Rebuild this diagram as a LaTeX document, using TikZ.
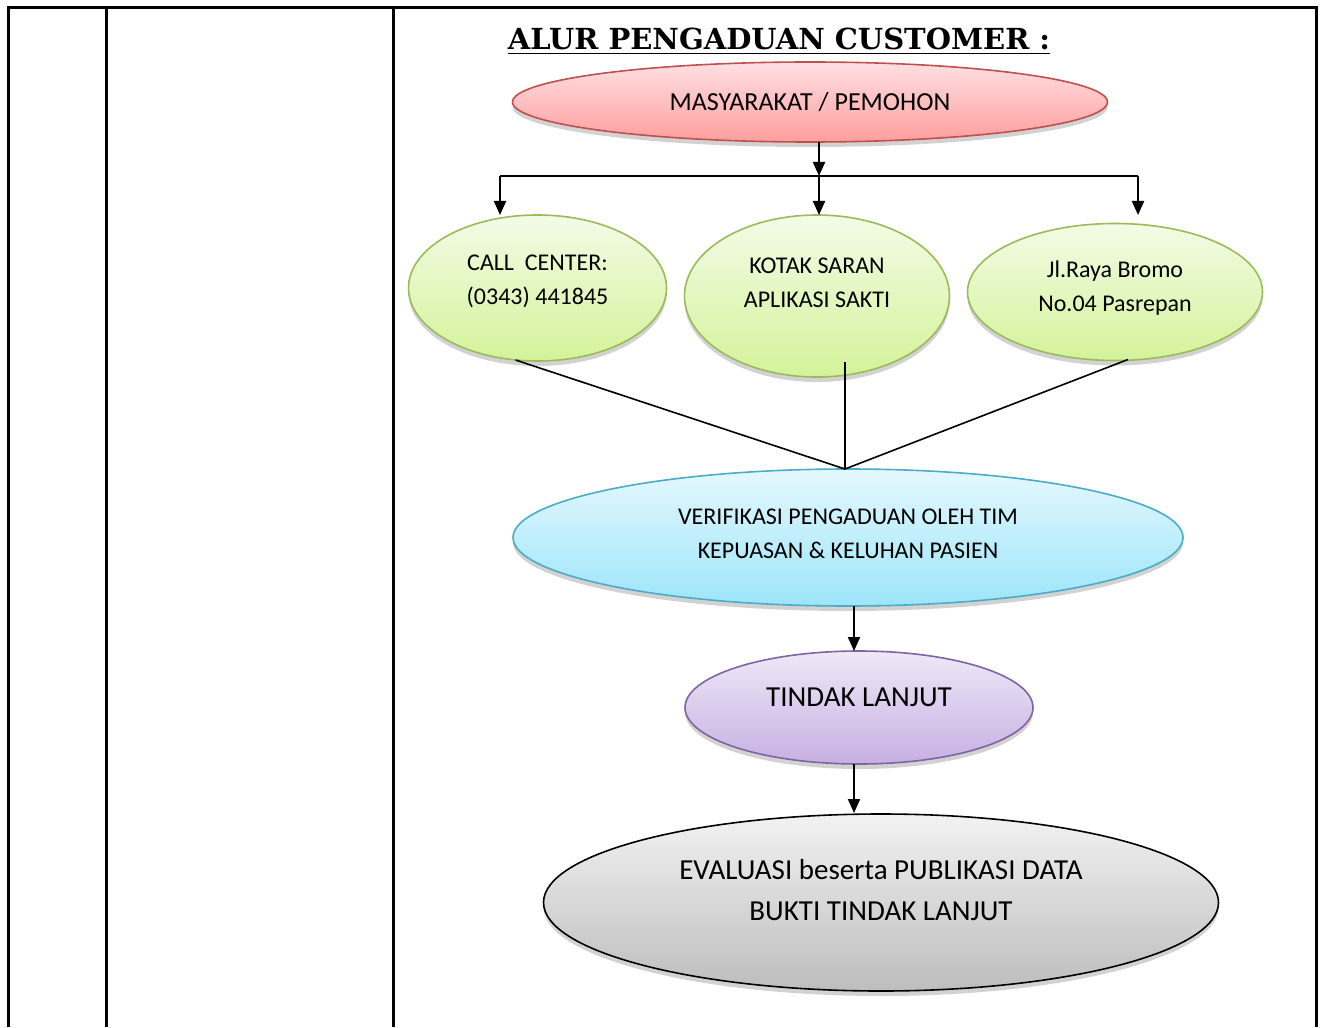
\documentclass[tikz,border=0pt]{standalone}
\usepackage{fontspec}
\setmainfont{Carlito}
\newfontfamily\titlefont{DejaVu Serif}
\usepackage{xcolor}
\usetikzlibrary{positioning,shapes.geometric,shadows,arrows.meta}

\definecolor{redtop}{HTML}{FFE0E3}
\definecolor{redbot}{HTML}{FF9E9E}
\definecolor{redline}{HTML}{C0504D}
\definecolor{greentop}{HTML}{F3FBE6}
\definecolor{greenbot}{HTML}{D4F39A}
\definecolor{greenline}{HTML}{9BBB59}
\definecolor{bluetop}{HTML}{E4F8FD}
\definecolor{bluebot}{HTML}{9DE5FA}
\definecolor{blueline}{HTML}{4BACC6}
\definecolor{violettop}{HTML}{EFE8F7}
\definecolor{violetbot}{HTML}{C6B0E3}
\definecolor{violetline}{HTML}{8064A2}
\definecolor{greytop}{HTML}{F2F2F2}
\definecolor{greybot}{HTML}{BDBDBD}

\begin{document}
\begin{tikzpicture}[x=1pt,y=1pt,node distance=9pt,
  bubble/.style={ellipse, draw, outer sep=0pt, inner sep=0pt, line width=0.8pt,
    drop shadow={shadow xshift=0pt, shadow yshift=-2.5pt, opacity=0.25, fill=black!70}},
  every label/.style={align=center, font=\fontsize{12}{17}\selectfont},
  tip/.style={-{Triangle[length=7pt,width=6pt]}, line width=1pt},
  frame/.style={line width=1.5pt, line join=miter}]

  \useasboundingbox (0,0) rectangle (660.5,-513.5);

  % table lines
  \draw[frame] (4,-513.5) -- (4,-4) -- (658,-4) -- (658,-513.5);
  \draw[frame] (53,-4) -- (53,-513.5);
  \draw[frame] (196.5,-4) -- (196.5,-513.5);

  \node(title)[anchor=base] at (389.5,-25) {\titlefont\bfseries\fontsize{14.5}{16}\selectfont\underline{ALUR PENGADUAN CUSTOMER :}};

  \node(masy)[bubble, draw=redline, top color=redtop, bottom color=redbot,
    minimum width=297.5pt, minimum height=40pt,
    label={[font=\fontsize{13}{17}\selectfont]center:MASYARAKAT / PEMOHON}] at (405,-51) {};

  \node(kotak)[bubble, draw=greenline, top color=greentop, bottom color=greenbot,
    minimum width=132.5pt, minimum height=81pt, below=36.5pt of masy, xshift=3.5pt,
    label={[yshift=6.5pt]center:KOTAK SARAN\\APLIKASI SAKTI}] {};
  \node(call)[bubble, draw=greenline, top color=greentop, bottom color=greenbot,
    minimum width=129pt, minimum height=73pt, left=of kotak, yshift=4pt,
    label={[yshift=3.5pt]center:CALL\ \ CENTER:\\(0343) 441845}] {};
  \node(jalan)[bubble, draw=greenline, top color=greentop, bottom color=greenbot,
    minimum width=147.5pt, minimum height=68.5pt, right=of kotak, yshift=2pt,
    label={[yshift=2pt]center:Jl.Raya Bromo\\No.04 Pasrepan}] {};

  \node(verif)[bubble, draw=blueline, top color=bluetop, bottom color=bluebot,
    minimum width=335pt, minimum height=68.5pt, below=46pt of kotak, xshift=15.5pt,
    label={[yshift=2pt]center:VERIFIKASI PENGADUAN OLEH TIM\\KEPUASAN \& KELUHAN PASIEN}] {};

  \node(tindak)[bubble, draw=violetline, top color=violettop, bottom color=violetbot,
    minimum width=174pt, minimum height=56.5pt, below=22.5pt of verif, xshift=5.5pt,
    label={[yshift=5pt,font=\fontsize{14.5}{20}\selectfont]center:TINDAK LANJUT}] {};

  \node(eval)[bubble, draw=black, top color=greytop, bottom color=greybot,
    minimum width=337.5pt, minimum height=88.5pt, below=25pt of tindak, xshift=11pt,
    label={[yshift=6pt,font=\fontsize{14.5}{20.5}\selectfont]center:EVALUASI beserta PUBLIKASI DATA\\BUKTI TINDAK LANJUT}] {};

  \coordinate(hub) at ([xshift=4.5pt,yshift=-17pt]masy.south);
  \coordinate(lbr) at (250,-88);
  \coordinate(rbr) at (569,-88);
  \coordinate(meet) at ([xshift=-1.5pt]verif.north);

  \draw[tip] ([xshift=4.5pt]masy.south) -- (hub);
  \draw[line width=1pt] (lbr) -- (rbr);
  \draw[tip] (lbr) -- (lbr |- kotak.north);
  \draw[tip] (hub) -- (hub |- kotak.north);
  \draw[tip] (rbr) -- (rbr |- kotak.north);

  \draw[line width=0.8pt] ([xshift=-11pt,yshift=0.5pt]call.south) -- (meet);
  \draw[line width=0.8pt] ([xshift=14pt,yshift=7.5pt]kotak.south) -- (meet);
  \draw[line width=0.8pt] ([xshift=6.5pt,yshift=0.5pt]jalan.south) -- (meet);

  \draw[tip] ([xshift=3pt]verif.south) -- ([xshift=-2.5pt]tindak.north);
  \draw[tip] ([xshift=-2.5pt]tindak.south) -- ([xshift=-13.5pt,yshift=0.5pt]eval.north);
\end{tikzpicture}
\end{document}
